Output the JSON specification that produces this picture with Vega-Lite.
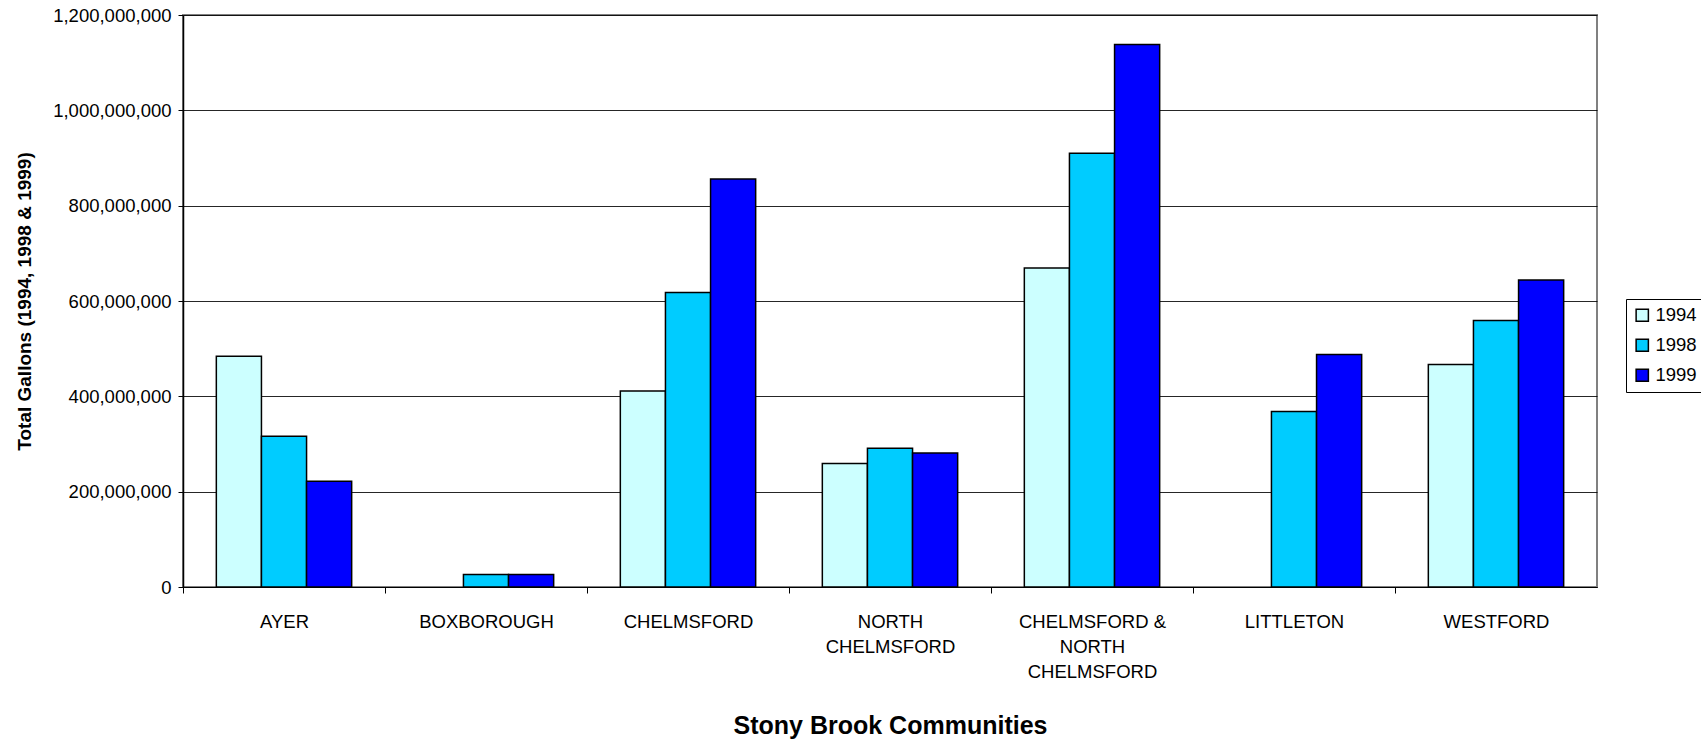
{
  "$schema": "https://vega.github.io/schema/vega-lite/v6.json",
  "autosize": {"type": "none"},
  "padding": {"left": 183, "top": 15, "right": 104, "bottom": 157},
  "width": 1414,
  "height": 572,
  "background": "#ffffff",
  "config": {
    "font": "Liberation Sans",
    "view": {"stroke": "#808080", "strokeWidth": 2}
  },
  "data": {
    "values": [
      {"community": "AYER", "year": "1994", "gallons": 484000000},
      {"community": "AYER", "year": "1998", "gallons": 316000000},
      {"community": "AYER", "year": "1999", "gallons": 222000000},
      {"community": "BOXBOROUGH", "year": "1998", "gallons": 26000000},
      {"community": "BOXBOROUGH", "year": "1999", "gallons": 26000000},
      {"community": "CHELMSFORD", "year": "1994", "gallons": 411000000},
      {"community": "CHELMSFORD", "year": "1998", "gallons": 618000000},
      {"community": "CHELMSFORD", "year": "1999", "gallons": 856000000},
      {"community": "NORTH CHELMSFORD", "year": "1994", "gallons": 259000000},
      {"community": "NORTH CHELMSFORD", "year": "1998", "gallons": 291000000},
      {"community": "NORTH CHELMSFORD", "year": "1999", "gallons": 281000000},
      {"community": "CHELMSFORD & NORTH CHELMSFORD", "year": "1994", "gallons": 669000000},
      {"community": "CHELMSFORD & NORTH CHELMSFORD", "year": "1998", "gallons": 910000000},
      {"community": "CHELMSFORD & NORTH CHELMSFORD", "year": "1999", "gallons": 1138000000},
      {"community": "LITTLETON", "year": "1998", "gallons": 368000000},
      {"community": "LITTLETON", "year": "1999", "gallons": 488000000},
      {"community": "WESTFORD", "year": "1994", "gallons": 467000000},
      {"community": "WESTFORD", "year": "1998", "gallons": 559000000},
      {"community": "WESTFORD", "year": "1999", "gallons": 644000000}
    ]
  },
  "mark": {"type": "bar", "stroke": "#000000", "strokeWidth": 1.5},
  "encoding": {
    "x": {
      "field": "community",
      "type": "nominal",
      "sort": ["AYER", "BOXBOROUGH", "CHELMSFORD", "NORTH CHELMSFORD", "CHELMSFORD & NORTH CHELMSFORD", "LITTLETON", "WESTFORD"],
      "scale": {"paddingInner": 0.33, "paddingOuter": 0.165},
      "axis": {
        "title": "Stony Brook Communities",
        "titleFont": "Liberation Sans",
        "titleFontSize": 25,
        "titleFontWeight": "bold",
        "titleColor": "#000000",
        "titlePadding": 33,
        "labelAngle": 0,
        "labelFont": "Liberation Sans",
        "labelFontSize": 18.5,
        "labelColor": "#000000",
        "labelPadding": 19,
        "labelLineHeight": 25,
        "labelLimit": 400,
        "labelExpr": "datum.value == 'NORTH CHELMSFORD' ? ['NORTH', 'CHELMSFORD'] : datum.value == 'CHELMSFORD & NORTH CHELMSFORD' ? ['CHELMSFORD &', 'NORTH', 'CHELMSFORD'] : datum.value",
        "tickOffset": -101,
        "labelOffset": 101,
        "tickSize": 6,
        "tickColor": "#000000",
        "tickWidth": 1,
        "domainColor": "#000000",
        "domainWidth": 1,
        "grid": false
      }
    },
    "xOffset": {
      "field": "year",
      "type": "nominal",
      "sort": ["1994", "1998", "1999"],
      "scale": {"paddingInner": 0, "paddingOuter": 0}
    },
    "y": {
      "field": "gallons",
      "type": "quantitative",
      "scale": {"domain": [0, 1200000000], "nice": false},
      "axis": {
        "title": "Total Gallons (1994, 1998 & 1999)",
        "titleFont": "Liberation Sans",
        "titleFontSize": 19,
        "titleFontWeight": "bold",
        "titleColor": "#000000",
        "titlePadding": 18,
        "values": [0, 200000000, 400000000, 600000000, 800000000, 1000000000, 1200000000],
        "format": ",d",
        "labelFont": "Liberation Sans",
        "labelFontSize": 18.5,
        "labelColor": "#000000",
        "labelPadding": 7,
        "tickSize": 5,
        "tickColor": "#000000",
        "domainColor": "#000000",
        "domainWidth": 1.5,
        "grid": true,
        "gridColor": "#000000",
        "gridWidth": 1,
        "gridOpacity": 0.85
      }
    },
    "color": {
      "field": "year",
      "type": "nominal",
      "sort": ["1994", "1998", "1999"],
      "scale": {"domain": ["1994", "1998", "1999"], "range": ["#CCFFFF", "#00CCFF", "#0000FF"]},
      "legend": {
        "title": null,
        "orient": "none",
        "legendX": 1443,
        "legendY": 284,
        "strokeColor": "#000000",
        "fillColor": "#ffffff",
        "padding": 7,
        "symbolType": "square",
        "symbolSize": 150,
        "symbolStrokeColor": "#000000",
        "symbolStrokeWidth": 1.5,
        "symbolOpacity": 1,
        "labelFont": "Liberation Sans",
        "labelFontSize": 18.5,
        "labelColor": "#000000",
        "labelOffset": 4,
        "rowPadding": 11
      }
    }
  }
}
